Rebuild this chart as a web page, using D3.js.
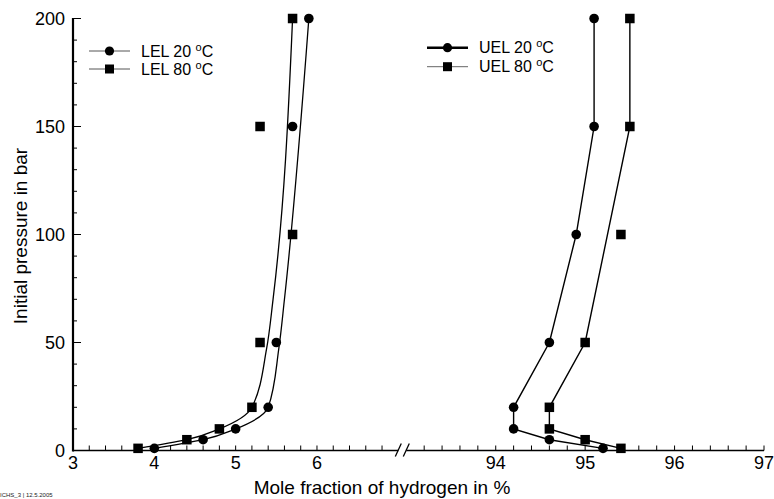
<!DOCTYPE html>
<html>
<head>
<meta charset="utf-8">
<script src="https://cdn.jsdelivr.net/npm/d3@7"></script>
<style>
  html, body { margin: 0; padding: 0; background: #fff; }
  svg { display: block; font-family: "Liberation Sans", Arial, sans-serif; }
</style>
</head>
<body>
<svg id="chart" width="774" height="499"></svg>
<script>
// Initial pressure (bar) at each measurement
const pressures = [1, 5, 10, 20, 50, 100, 150, 200];

// Measured lower explosion limits (mol-% H2)
const lel20Pressure = [1, 5, 10, 20, 50, 150, 200];
const lel20Values   = [4.0, 4.6, 5.0, 5.4, 5.5, 5.7, 5.9];
const lel80Pressure = [1, 5, 10, 20, 50, 100, 150, 200];
const lel80Values   = [3.8, 4.4, 4.8, 5.2, 5.3, 5.7, 5.3, 5.7];

// Measured upper explosion limits (mol-% H2)
const uel20Values = [95.2, 94.6, 94.2, 94.2, 94.6, 94.9, 95.1, 95.1];
const uel80Values = [95.4, 95.0, 94.6, 94.6, 95.0, 95.4, 95.5, 95.5];

// Trend curves drawn through the measurements
const lel20CurveP = [1, 5, 10, 20, 47, 70, 200];
const lel20CurveX = [4.0, 4.6, 5.0, 5.4, 5.53, 5.6, 5.9];
const lel80CurveP = [1, 5, 10, 20, 47, 70, 200];
const lel80CurveX = [3.8, 4.4, 4.8, 5.2, 5.38, 5.46, 5.7];
const uel20CurveP = [1, 5, 10, 20, 50, 100, 150, 200];
const uel20CurveX = [95.2, 94.6, 94.2, 94.2, 94.6, 94.9, 95.1, 95.1];
const uel80CurveP = [1, 5, 10, 20, 50, 150, 200];
const uel80CurveX = [95.4, 95.0, 94.6, 94.6, 95.0, 95.5, 95.5];

// Axis ticks and labels
const leftTickLabels = [3, 4, 5, 6];
const rightTickLabels = [94, 95, 96, 97];
const yTickLabels = [0, 50, 100, 150, 200];

const legendLeft = ["LEL 20 ", "LEL 80 "];
const legendRight = ["UEL 20 ", "UEL 80 "];

const svg = d3.select("#chart");

const y = d3.scaleLinear().domain([0, 200]).range([450.5, 18.5]);
const xL = d3.scaleLinear().domain([3, 7]).range([73, 398.3]);
const xR = d3.scaleLinear().domain([93, 97]).range([406.3, 764]);

const y0 = y(0);
const fontSize = 18;
const titleSize = 19;

// ---- Y axis ----
const yAxisG = svg.append("g");
yAxisG.append("line")
  .attr("x1", xL(3)).attr("x2", xL(3))
  .attr("y1", y(0) + 1).attr("y2", y(200) - 0.5)
  .attr("stroke", "#000").attr("stroke-width", 2.2);
d3.range(0, 201, 10).forEach(v => {
  const major = v % 50 === 0;
  yAxisG.append("line")
    .attr("x1", xL(3)).attr("x2", xL(3) + (major ? 8 : 4))
    .attr("y1", y(v)).attr("y2", y(v))
    .attr("stroke", "#000").attr("stroke-width", 1);
});
yTickLabels.forEach(v => {
  yAxisG.append("text")
    .attr("x", 65).attr("y", y(v))
    .attr("dy", "0.36em")
    .attr("text-anchor", "end")
    .attr("font-size", fontSize)
    .text(v);
});

// ---- X axis (broken) ----
const xAxisG = svg.append("g");
xAxisG.append("line")
  .attr("x1", xL(3)).attr("x2", xL(7))
  .attr("y1", y0).attr("y2", y0)
  .attr("stroke", "#000").attr("stroke-width", 1.4);
xAxisG.append("line")
  .attr("x1", xR(93)).attr("x2", xR(97))
  .attr("y1", y0).attr("y2", y0)
  .attr("stroke", "#000").attr("stroke-width", 1.4);

d3.range(3.2, 6.9, 0.2).forEach(v => {
  xAxisG.append("line")
    .attr("x1", xL(v)).attr("x2", xL(v))
    .attr("y1", y0).attr("y2", y0 - 5)
    .attr("stroke", "#000").attr("stroke-width", 1);
});
d3.range(93.2, 97.01, 0.2).forEach(v => {
  xAxisG.append("line")
    .attr("x1", xR(v)).attr("x2", xR(v))
    .attr("y1", y0).attr("y2", y0 - 5)
    .attr("stroke", "#000").attr("stroke-width", 1);
});
leftTickLabels.forEach(v => {
  xAxisG.append("text")
    .attr("x", xL(v)).attr("y", y0 + 5)
    .attr("dy", "0.75em")
    .attr("text-anchor", "middle")
    .attr("font-size", fontSize)
    .text(v);
});
rightTickLabels.forEach(v => {
  xAxisG.append("text")
    .attr("x", xR(v)).attr("y", y0 + 5)
    .attr("dy", "0.75em")
    .attr("text-anchor", "middle")
    .attr("font-size", fontSize)
    .text(v);
});

// break marks
[xL(7), xR(93)].forEach(bx => {
  xAxisG.append("line")
    .attr("x1", bx - 3).attr("x2", bx + 3)
    .attr("y1", y0 + 6).attr("y2", y0 - 7)
    .attr("stroke", "#000").attr("stroke-width", 1.3);
});

// ---- Axis titles ----
svg.append("text")
  .attr("x", 382).attr("y", 494)
  .attr("text-anchor", "middle")
  .attr("font-size", titleSize)
  .text("Mole fraction of hydrogen in %");

svg.append("text")
  .attr("transform", "translate(27,236) rotate(-90)")
  .attr("text-anchor", "middle")
  .attr("font-size", titleSize)
  .text("Initial pressure in bar");

// ---- Series ----
const pathFor = (xs, ps, sx, curve) =>
  d3.line().x((d, i) => sx(xs[i])).y((d, i) => y(ps[i])).curve(curve)(ps);

const dataG = svg.append("g");
dataG.append("path")
  .attr("d", pathFor(lel20CurveX, lel20CurveP, xL, d3.curveMonotoneY))
  .attr("fill", "none").attr("stroke", "#000").attr("stroke-width", 1.3);
dataG.append("path")
  .attr("d", pathFor(lel80CurveX, lel80CurveP, xL, d3.curveMonotoneY))
  .attr("fill", "none").attr("stroke", "#000").attr("stroke-width", 1.3);
dataG.append("path")
  .attr("d", pathFor(uel20CurveX, uel20CurveP, xR, d3.curveLinear))
  .attr("fill", "none").attr("stroke", "#000").attr("stroke-width", 1.4);
dataG.append("path")
  .attr("d", pathFor(uel80CurveX, uel80CurveP, xR, d3.curveLinear))
  .attr("fill", "none").attr("stroke", "#000").attr("stroke-width", 1.4);

const circles = (xs, ps, sx) => {
  dataG.selectAll(null).data(ps).enter().append("circle")
    .attr("cx", (d, i) => sx(xs[i])).attr("cy", d => y(d))
    .attr("r", 4.8).attr("fill", "#000");
};
const squares = (xs, ps, sx) => {
  const s = 9.5;
  dataG.selectAll(null).data(ps).enter().append("rect")
    .attr("x", (d, i) => sx(xs[i]) - s / 2).attr("y", d => y(d) - s / 2)
    .attr("width", s).attr("height", s).attr("fill", "#000");
};
circles(lel20Values, lel20Pressure, xL);
squares(lel80Values, lel80Pressure, xL);
circles(uel20Values, pressures, xR);
squares(uel80Values, pressures, xR);

// ---- Legends ----
function legend(x0, ys, labels, styles) {
  const g = svg.append("g");
  labels.forEach((lab, i) => {
    const st = styles[i];
    g.append("line")
      .attr("x1", x0).attr("x2", x0 + 41)
      .attr("y1", ys[i]).attr("y2", ys[i])
      .attr("stroke", st.color).attr("stroke-width", st.width);
    if (st.marker === "circle") {
      g.append("circle").attr("cx", x0 + 20.5).attr("cy", ys[i]).attr("r", 4.6).attr("fill", "#000");
    } else {
      g.append("rect").attr("x", x0 + 20.5 - 4.5).attr("y", ys[i] - 4.5)
        .attr("width", 9).attr("height", 9).attr("fill", "#000");
    }
    const t = g.append("text")
      .attr("x", x0 + 52).attr("y", ys[i] + 5.5)
      .attr("font-size", 16);
    t.append("tspan").text(lab);
    t.append("tspan").attr("font-size", 11).attr("dy", -6).text("o");
    t.append("tspan").attr("dy", 6).text("C");
  });
}
legend(89, [51, 69], legendLeft, [
  { marker: "circle", color: "#555", width: 1 },
  { marker: "square", color: "#555", width: 1 }
]);
legend(427, [47.7, 66.7], legendRight, [
  { marker: "circle", color: "#000", width: 2.6 },
  { marker: "square", color: "#666", width: 1 }
]);

// ---- Footer ----
svg.append("text")
  .attr("x", 0).attr("y", 497)
  .attr("font-size", 6)
  .attr("fill", "#222")
  .text("ICHS_3 | 12.5.2005");
</script>
</body>
</html>
